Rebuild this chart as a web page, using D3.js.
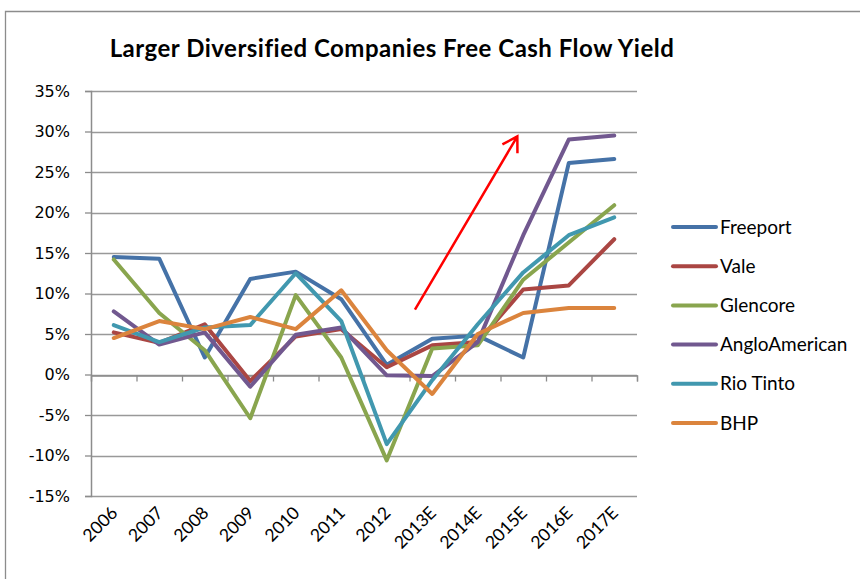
<!DOCTYPE html>
<html>
<head>
<meta charset="utf-8">
<script src="https://cdn.jsdelivr.net/npm/d3@7"></script>
<style>
  body { margin: 0; background: #fff; }
  svg { display: block; }
</style>
</head>
<body>
<svg width="860" height="579"></svg>
<script>
// categories and series (values in %)
var years = ["2006", "2007", "2008", "2009", "2010", "2011", "2012", "2013E", "2014E", "2015E", "2016E", "2017E"];

var freeport      = [14.5, 14.3, 2.1, 11.8, 12.7, 9.3, 1.2, 4.4, 4.8, 2.1, 26.1, 26.6];
var vale          = [5.2, 3.9, 6.2, -0.8, 4.7, 5.6, 0.9, 3.6, 4.0, 10.5, 11.0, 16.7];
var glencore      = [14.2, 7.6, 3.0, -5.4, 9.8, 2.1, -10.6, 3.2, 3.6, 11.7, 16.3, 20.9];
var angloAmerican = [7.8, 3.7, 5.2, -1.5, 4.9, 5.8, -0.1, -0.2, 4.0, 17.2, 29.0, 29.5];
var rioTinto      = [6.1, 4.0, 5.8, 6.1, 12.5, 6.6, -8.6, -0.7, 6.2, 12.6, 17.2, 19.4];
var bhp           = [4.5, 6.6, 5.6, 7.1, 5.6, 10.4, 3.0, -2.4, 5.0, 7.6, 8.2, 8.2];

var seriesNames  = ["Freeport", "Vale", "Glencore", "AngloAmerican", "Rio Tinto", "BHP"];
var seriesValues = [freeport, vale, glencore, angloAmerican, rioTinto, bhp];
var seriesColors = ["#4572A7", "#AA4643", "#89A54E", "#71588F", "#4198AF", "#DB843D"];

var yTicks = [35, 30, 25, 20, 15, 10, 5, 0, -5, -10, -15];

// red arrow annotation: [category index, value]
var arrowFrom = [6.62, 8.0];
var arrowTo   = [8.87, 29.4];

var svg = d3.select("svg");

// chart frame
svg.append("path")
    .attr("d", "M5.5,579 V11.5 H860")
    .attr("fill", "none")
    .attr("stroke", "#8c8c8c")
    .attr("stroke-width", 1.3);

var plot = { left: 91, right: 637, top: 91, bottom: 496 };

var x = d3.scaleBand()
    .domain(years)
    .range([plot.left, plot.right])
    .padding(0);

var xi = d3.scaleLinear()
    .domain([-0.5, years.length - 0.5])
    .range([plot.left, plot.right]);

var y = d3.scaleLinear()
    .domain([-15, 35])
    .range([plot.bottom, plot.top]);

// title
svg.append("text")
    .attr("x", 392)
    .attr("y", 57)
    .attr("text-anchor", "middle")
    .style("font-family", "Lato, 'Open Sans', sans-serif")
    .style("font-weight", "bold")
    .style("font-size", "24px")
    .style("letter-spacing", "0.5px")
    .text("Larger Diversified Companies Free Cash Flow Yield");

// horizontal grid
svg.append("g").selectAll("line")
    .data(yTicks)
    .enter().append("line")
    .attr("x1", plot.left)
    .attr("x2", plot.right)
    .attr("y1", function(d) { return Math.round(y(d)) + 0.5; })
    .attr("y2", function(d) { return Math.round(y(d)) + 0.5; })
    .attr("stroke", "#999")
    .attr("stroke-width", 1.3);

// y axis
var yAxis = svg.append("g")
    .attr("transform", "translate(" + plot.left + ",0)")
    .call(d3.axisLeft(y).tickValues(yTicks).tickSize(6).tickFormat(function(d) { return d + "%"; }));
yAxis.select(".domain").attr("stroke", "#8c8c8c").attr("stroke-width", 1.5);
yAxis.selectAll(".tick line").attr("stroke", "#8c8c8c").attr("stroke-width", 1.3);
yAxis.selectAll(".tick text")
    .attr("x", -21)
    .style("font-family", "'DejaVu Sans', sans-serif")
    .style("font-size", "16px")
    .attr("fill", "#000");

// x axis sitting on the 0% line, ticks at category boundaries
var xAxis = svg.append("g")
    .attr("transform", "translate(0," + (Math.round(y(0)) + 0.5) + ")")
    .call(d3.axisBottom(xi).tickValues(d3.range(-0.5, years.length, 1)).tickSize(6).tickFormat(""));
xAxis.select(".domain").attr("stroke", "#8c8c8c").attr("stroke-width", 1.3);
xAxis.selectAll(".tick line").attr("stroke", "#8c8c8c").attr("stroke-width", 1.3);

// category labels under the plot
svg.append("g").selectAll("text")
    .data(years)
    .enter().append("text")
    .attr("transform", function(d) {
        return "translate(" + (x(d) + x.bandwidth() / 2 + 5) + "," + (plot.bottom + 18) + ") rotate(-45)";
    })
    .attr("text-anchor", "end")
    .style("font-family", "Lato, 'Open Sans', sans-serif")
    .style("font-size", "17.5px")
    .text(function(d) { return d; });

// series lines
var line = d3.line()
    .x(function(d, i) { return x(years[i]) + x.bandwidth() / 2; })
    .y(function(d) { return y(d); });

svg.append("g").selectAll("path")
    .data(seriesValues)
    .enter().append("path")
    .attr("d", line)
    .attr("fill", "none")
    .attr("stroke", function(d, i) { return seriesColors[i]; })
    .attr("stroke-width", 4)
    .attr("stroke-linejoin", "round")
    .attr("stroke-linecap", "round");

// red arrow
var ax1 = xi(arrowFrom[0]), ay1 = y(arrowFrom[1]),
    ax2 = xi(arrowTo[0]),   ay2 = y(arrowTo[1]),
    ang = Math.atan2(ay2 - ay1, ax2 - ax1),
    head = 17, spread = 0.54;
svg.append("path")
    .attr("d", "M" + ax1 + "," + ay1 + " L" + ax2 + "," + ay2 +
        " M" + (ax2 - head * Math.cos(ang - spread)) + "," + (ay2 - head * Math.sin(ang - spread)) +
        " L" + ax2 + "," + ay2 +
        " L" + (ax2 - head * Math.cos(ang + spread)) + "," + (ay2 - head * Math.sin(ang + spread)))
    .attr("fill", "none")
    .attr("stroke", "#ff0000")
    .attr("stroke-width", 2.5);

// legend
var legend = svg.append("g").selectAll("g")
    .data(seriesNames)
    .enter().append("g")
    .attr("transform", function(d, i) { return "translate(671," + (227 + i * 39.2) + ")"; });

legend.append("line")
    .attr("x1", 2)
    .attr("x2", 45)
    .attr("stroke", function(d, i) { return seriesColors[i]; })
    .attr("stroke-width", 4)
    .attr("stroke-linecap", "round");

legend.append("text")
    .attr("x", 49)
    .attr("dy", "0.35em")
    .style("font-family", "Lato, 'Open Sans', sans-serif")
    .style("font-size", "19px")
    .text(function(d) { return d; });
</script>
</body>
</html>
